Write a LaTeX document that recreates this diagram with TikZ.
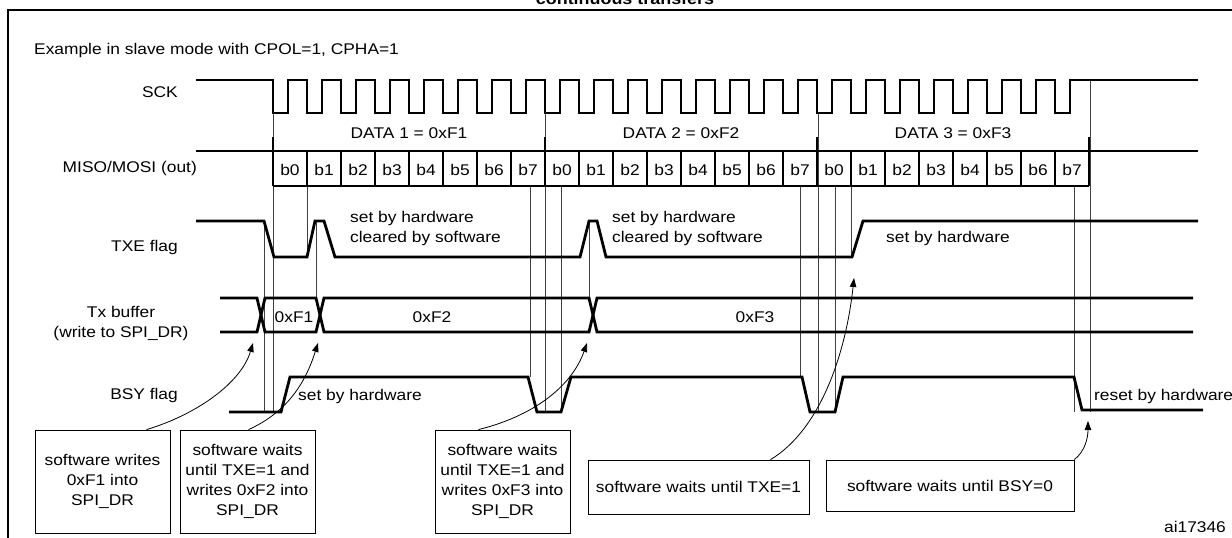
\documentclass[tikz,border=0pt]{standalone}
\usepackage{fontspec}
\setmainfont{Liberation Sans}[FakeStretch=1.12]
\usetikzlibrary{arrows.meta}

\tikzset{
  sig/.style={line width=2.8pt, line join=miter},
  guide/.style={line width=0.7pt, black!75},
  note/.style={draw, line width=0.8pt, align=center, inner sep=2pt},
  ptr/.style={line width=0.8pt, -{Triangle[length=9pt,width=6.5pt]}},
  lbl/.style={inner sep=0pt, font=\fontsize{15.5}{20}\selectfont}
}

\begin{document}
\begin{tikzpicture}[x=1pt,y=-1pt]
\useasboundingbox (0,0) rectangle (1232,538);
% frame and title
\draw[line width=1.6pt] (8,560) -- (8,10) -- (1250,10);
\node[lbl, font=\bfseries\fontsize{16}{20}\selectfont, anchor=base] (title) at (625,5) {continuous transfers};
\node[lbl, anchor=west] (mode) at (34,50) {Example in slave mode with CPOL=1, CPHA=1};

% signal names
\node[lbl, anchor=east] (sck) at (178,92) {SCK};
\node[lbl, anchor=east] (miso) at (197,168) {MISO/MOSI (out)};
\node[lbl, anchor=east] (txe) at (178,247) {TXE flag};
\node[lbl, align=center] (txbuf) at (121,323) {Tx buffer\\(write to SPI\_DR)};
\node[lbl, anchor=east] (bsy) at (178,395) {BSY flag};

% guide lines
\foreach \x/\ya/\yb in {264/221/412, 273/113/412, 307/186/257, 316/221/298,
  530/186/377, 545/113/412, 561/186/412, 589/221/298,
  800/186/377, 818/113/412, 835/186/412, 851/186/257,
  1074/186/412, 1090/80/412}
  \draw[guide] (\x,\ya) -- (\x,\yb);

% SCK
\draw[sig] (196,80) -- (273,80)
  \foreach \i in {0,...,23} {
    -- ({273+34*\i},113) -- ({288+34*\i},113) -- ({288+34*\i},80) -- ({307+34*\i},80)
  } -- (1198,80);

% MISO/MOSI
\draw[sig] (196,151) -- (1198,151);
\draw[sig] (273,186) -- (1089,186);
\foreach \k in {0,...,24}
  \draw[sig] ({273+34*\k},151) -- ({273+34*\k},186);
\foreach \x in {273,545,817,1089}
  \draw[sig] (\x,137) -- (\x,151);
\foreach \k in {0,...,23} {
  \pgfmathtruncatemacro{\bit}{mod(\k,8)}
  \node[lbl] (b\k) at ({290+34*\k},170) {b\bit};
}
\node[lbl] (data1) at (409,133) {DATA 1 = 0xF1};
\node[lbl] (data2) at (681,133) {DATA 2 = 0xF2};
\node[lbl] (data3) at (953,133) {DATA 3 = 0xF3};

% TXE flag
\draw[sig] (196,221) -- (264,221) -- (274,257) -- (307,257) -- (315,221) -- (324,221)
  -- (335,257) -- (580,257) -- (589,221) -- (597,221) -- (606,257) -- (852,257)
  -- (863,221) -- (1198,221);
\node[lbl, anchor=west, align=left] (txe1) at (350,228) {set by hardware\\cleared by software};
\node[lbl, anchor=west, align=left] (txe2) at (612,228) {set by hardware\\cleared by software};
\node[lbl, anchor=west] (txe3) at (886,238) {set by hardware};

% Tx buffer
\draw[sig] (220,298) -- (257,298) -- (265,332) -- (316,332) -- (324,298) -- (589,298)
  -- (597,332) -- (1193,332);
\draw[sig] (220,332) -- (257,332) -- (265,298) -- (316,298) -- (324,332) -- (589,332)
  -- (597,298) -- (1193,298);
\node[lbl] (f1) at (294,317) {0xF1};
\node[lbl] (f2) at (432,317) {0xF2};
\node[lbl] (f3) at (755,317) {0xF3};

% BSY flag
\draw[sig] (229,412) -- (281,412) -- (290,377) -- (528,377) -- (537,412) -- (561,412)
  -- (571,377) -- (802,377) -- (810,412) -- (835,412) -- (843,377) -- (1074,377)
  -- (1082,410) -- (1203,410);
\node[lbl, anchor=west] (bsy1) at (298,396) {set by hardware};
\node[lbl, anchor=west] (bsy2) at (1094,396) {reset by hardware};

% notes
\node[note, lbl, inner sep=2pt, draw, minimum width=135pt, minimum height=103pt] (sw1) at (102.5,481.5) {software writes\\0xF1 into\\SPI\_DR};
\node[note, lbl, inner sep=2pt, draw, minimum width=135pt, minimum height=103pt] (sw2) at (247.5,481.5) {software waits\\until TXE=1 and\\writes 0xF2 into\\SPI\_DR};
\node[note, lbl, inner sep=2pt, draw, minimum width=135pt, minimum height=103pt] (sw3) at (502.5,481.5) {software waits\\until TXE=1 and\\writes 0xF3 into\\SPI\_DR};
\node[note, lbl, inner sep=2pt, draw, minimum width=221pt, minimum height=54pt] (sw4) at (698.5,487) {software waits until TXE=1};
\node[note, lbl, inner sep=2pt, draw, minimum width=248pt, minimum height=51pt] (sw5) at (950,485.5) {software waits until BSY=0};
\node[lbl] (ref) at (1195,527) {ai17346};

% pointers
\coordinate (w1) at (253,343);
\coordinate (w2) at (318,343);
\coordinate (w3) at (587,343);
\coordinate (w4) at (854,278);
\coordinate (w5) at (1088,421);
\draw[ptr] ([xshift=44pt]sw1.north) .. controls +(50,-15) and +(-12,40) .. (w1);
\draw[ptr] ([xshift=1pt]sw2.north) .. controls +(40,-18) and +(-12,38) .. (w2);
\draw[ptr] ([xshift=-24pt]sw3.north) .. controls +(60,-15) and +(-14,40) .. (w3);
\draw[ptr] ([xshift=72pt]sw4.north) .. controls +(50,-30) and +(-8,75) .. (w4);
\draw[ptr] (sw5.north east) .. controls +(10,-8) and +(0,18) .. (w5);
\end{tikzpicture}
\end{document}
